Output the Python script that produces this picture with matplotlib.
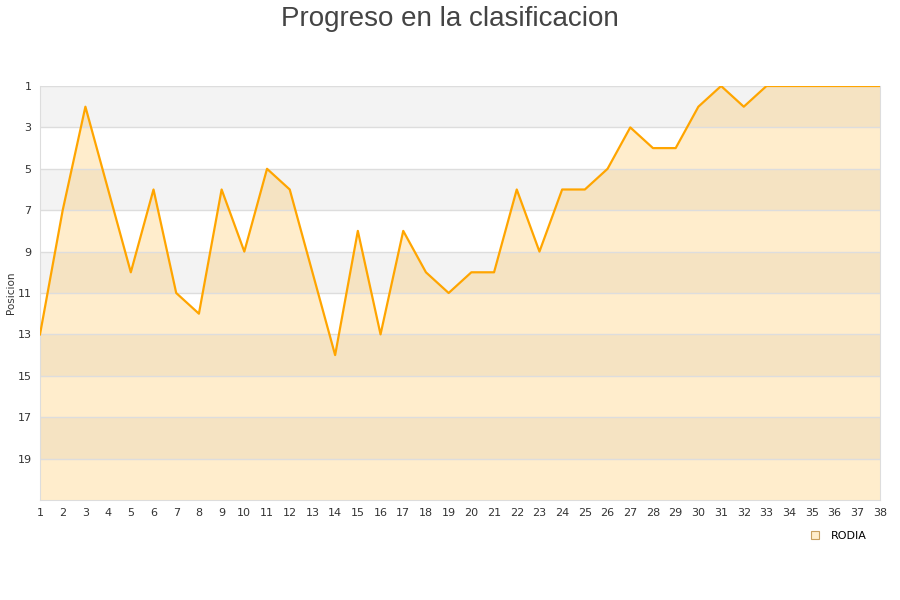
import matplotlib.pyplot as plt
from matplotlib.lines import Line2D

# jornadas y posicion
jornadas = list(range(1, 39))
posicion = [13, 7, 2, 6, 10, 6, 11, 12, 6, 9, 5, 6, 10, 14, 8, 13, 8, 10, 11, 10,
            10, 6, 9, 6, 6, 5, 3, 4, 4, 2, 1, 2, 1, 1, 1, 1, 1, 1]
equipo = 'RODIA'
yticks = [1, 3, 5, 7, 9, 11, 13, 15, 17, 19]

fig = plt.figure(figsize=(9, 6), dpi=100)
ax = fig.add_axes([40/900, 100/600, 840/900, 414/600])

# bandas alternas
for i, y0 in enumerate(range(1, 21, 2)):
    if i % 2 == 0:
        ax.axhspan(y0, y0 + 2, color='#f3f3f3', zorder=0, lw=0)

ax.fill_between(jornadas, posicion, 21, color='orange', alpha=0.2, lw=0, zorder=1)
ax.plot(jornadas, posicion, color='orange', lw=1.6, zorder=3)

ax.set_xlim(1, 38)
ax.set_ylim(21, 1)
ax.set_xticks(jornadas)
ax.set_yticks(yticks)
ax.tick_params(length=0, labelsize=8, colors='#333333', pad=6)
ax.grid(axis='y', color='#dddddd', lw=1, zorder=2)
for s in ax.spines.values():
    s.set_color('#dddddd')
ax.spines['top'].set_visible(False)
ax.set_ylabel('Posicion', fontsize=7.5, color='#333333')
ax.yaxis.set_label_coords(-24/840, 0.5)

fig.suptitle('Progreso en la clasificacion', fontsize=20, color='#444444', y=0.99,
             family='Liberation Sans')

handle = Line2D([], [], ls='', marker='s', ms=6, mfc='#ffeecc', mec='#c8a060', mew=0.8)
fig.legend([handle], [equipo], loc='center', bbox_to_anchor=(835/900, 1 - 536/600),
           frameon=False, fontsize=8, handletextpad=0.4)

plt.savefig('out.png', dpi=100)
